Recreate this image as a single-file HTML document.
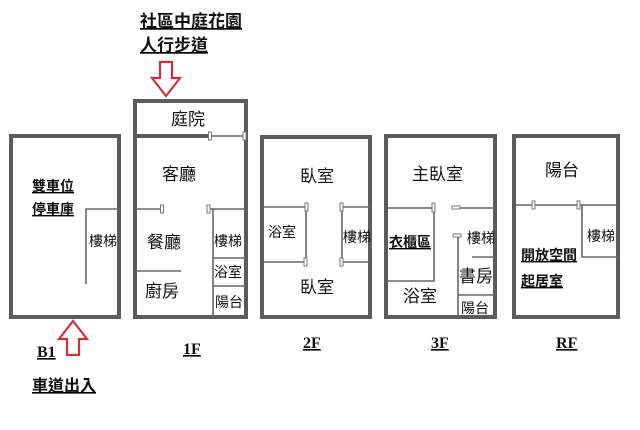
<!DOCTYPE html>
<html><head><meta charset="utf-8"><style>
html,body{margin:0;padding:0;background:#fff;}
svg{display:block;}
text{font-family:"Liberation Sans","Noto Sans CJK TC",sans-serif;fill:#111;}
.s{font-family:"Liberation Serif","Noto Serif CJK SC",serif;}
</style></head><body>
<svg width="640" height="430" viewBox="0 0 640 430" xmlns="http://www.w3.org/2000/svg">
<g fill="none" stroke="#5b5b5b" stroke-width="4">
<rect x="11" y="136" width="108" height="181"/>
<rect x="135" y="101" width="111" height="216"/>
<rect x="262" y="137" width="108" height="180"/>
<rect x="386" y="136" width="109" height="181"/>
<rect x="514" y="136" width="104" height="181"/>
<line x1="135" y1="136" x2="210" y2="136"/>
</g>
<g fill="none" stroke="#666" stroke-width="1.6">
<polyline points="86,284 86,209 119,209"/>
<line x1="210" y1="136" x2="245" y2="136"/>
<line x1="137" y1="209" x2="161" y2="209"/>
<polyline points="209,209 213,209 213,317"/><line x1="213" y1="209" x2="246" y2="209"/>
<line x1="213" y1="258" x2="246" y2="258"/>
<line x1="213" y1="286" x2="246" y2="286"/>
<line x1="137" y1="271" x2="181" y2="271"/>
<polyline points="264,207 306,207 306,262 264,262"/>
<polyline points="370,207 342,207 342,262 370,262"/>
<polyline points="388,208 433,208"/>
<polyline points="434,208 434,281 388,281"/>
<line x1="455" y1="208" x2="494" y2="208"/>
<line x1="458" y1="236" x2="458" y2="317"/>
<line x1="472" y1="257" x2="494" y2="257"/>
<line x1="458" y1="295" x2="494" y2="295"/>
<line x1="516" y1="205" x2="618" y2="205"/>
<polyline points="582,205 582,257 618,257"/>
</g>
<g fill="#fff" stroke="#777" stroke-width="1">
<rect x="208.5" y="132" width="3" height="8"/><rect x="243" y="132" width="3" height="8"/>
<rect x="160.5" y="205" width="3" height="8"/><rect x="207" y="205" width="3" height="8"/>
<rect x="305" y="203" width="3" height="8"/><rect x="304" y="258" width="3" height="8"/>
<rect x="340" y="203" width="3" height="8"/><rect x="340" y="258" width="3" height="8"/>
<rect x="432" y="203" width="3" height="9"/>
<rect x="452" y="206" width="8" height="3"/>
<rect x="453" y="234" width="8" height="3"/>
<rect x="532" y="201" width="3" height="8"/><rect x="577" y="201" width="3" height="8"/>
</g>
<g fill="#fff" stroke="#d0303a" stroke-width="2.2">
<polygon points="160,62 172,62 172,78 180,78 166,96 152,78 160,78"/>
<polygon points="67,355 79,355 79,339 87,339 73,321 59,339 67,339"/>
</g>
<g text-decoration="underline" font-weight="bold">
<text x="140" y="27" font-size="17">社區中庭花園</text>
<text x="140" y="51" font-size="17">人行步道</text>
<text x="32" y="191" font-size="14">雙車位</text>
<text x="32" y="214" font-size="14">停車庫</text>
<text x="32" y="391" font-size="16">車道出入</text>
<text x="389" y="247" font-size="14">衣櫃區</text>
<text x="521" y="260" font-size="14">開放空間</text>
<text x="521" y="286" font-size="14">起居室</text>
</g>
<g font-size="17">
<text x="171" y="125">庭院</text>
<text x="162" y="180">客廳</text>
<text x="147" y="248">餐廳</text>
<text x="145" y="297">廚房</text>
<text x="300" y="182">臥室</text>
<text x="300" y="293">臥室</text>
<text x="412" y="180">主臥室</text>
<text x="403" y="302">浴室</text>
<text x="545" y="176">陽台</text>
<text x="459" y="282">書房</text>
</g>
<g font-size="14">
<text x="89" y="246">樓梯</text>
<text x="214" y="246">樓梯</text>
<text x="214" y="277">浴室</text>
<text x="215" y="307">陽台</text>
<text x="268" y="237">浴室</text>
<text x="343" y="242">樓梯</text>
<text x="467" y="243">樓梯</text>
<text x="461" y="313">陽台</text>
<text x="587" y="241">樓梯</text>
</g>
<g font-size="16" text-decoration="underline" font-weight="bold">
<text class="s" x="37" y="357">B1</text>
<text class="s" x="183" y="354">1F</text>
<text class="s" x="303" y="348">2F</text>
<text class="s" x="431" y="348">3F</text>
<text class="s" x="556" y="348">RF</text>
</g>
</svg>
</body></html>
